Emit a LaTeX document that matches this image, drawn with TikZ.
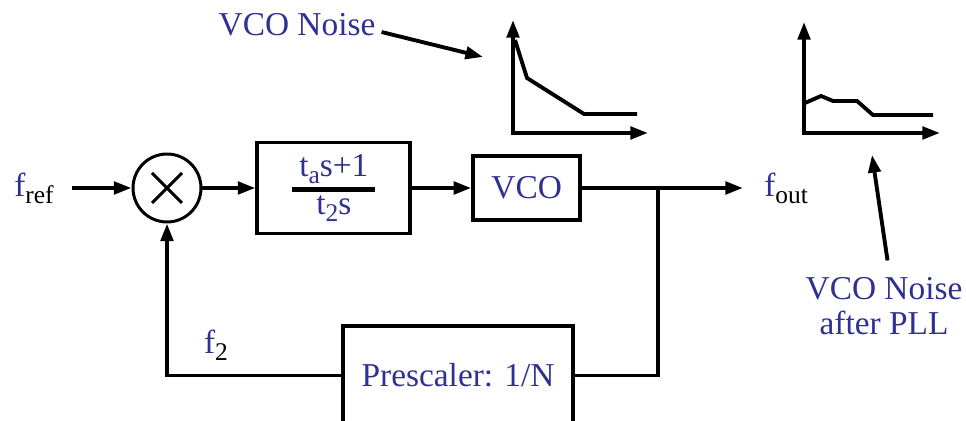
\documentclass[tikz,border=0pt]{standalone}
\usepackage{fontspec}
\setmainfont{Liberation Serif}
\usepackage{tikz}
\usetikzlibrary{positioning, arrows.meta}
\definecolor{textblue}{RGB}{46,49,146}
\newcommand{\subtxt}[1]{\raisebox{-4pt}{\fontsize{14.5pt}{15pt}\selectfont #1}}

\begin{document}
\begin{tikzpicture}[
    x=0.02cm, y=-0.02cm,
    font=\fontsize{19pt}{20pt}\selectfont,
    block/.style={draw, rectangle, line width=2.2pt, align=center, text=textblue},
    lbl/.style={text=textblue, align=center},
    wire/.style={line width=2.2pt},
    arrow/.style={-{Triangle[length=10pt, width=7pt]}, line width=2.2pt},
    axes/.style={{Triangle[length=10pt, width=7pt]}-{Triangle[length=10pt, width=7pt]}, line width=2.2pt}
]
\useasboundingbox (0,0) rectangle (966,421);

% main loop
\node[draw, circle, line width=1.7pt, minimum size=1.36cm] (mix) at (167,188) {};
\draw[line width=1.7pt] (mix.center) +(-15,-15) -- +(15,15) +(15,-15) -- +(-15,15);
\node[block, minimum width=3.06cm, minimum height=1.82cm, right=1.06cm of mix] (filter)
    {t\subtxt{a}s+1\\[-11.5pt]{\color{black}\rule{1.66cm}{2.4pt}}\\[-7pt]t\subtxt{2}s};
\node[block, minimum width=2.14cm, minimum height=1.28cm, right=1.18cm of filter] (vco) {VCO};
\node[block, minimum width=4.6cm, minimum height=1.98cm] (prescaler) at (458,375.5) {Prescaler: 1/N};
\coordinate (split) at (658,188);

\node[lbl, anchor=east, inner xsep=0.36cm] (fref) at (72,188) {f\subtxt{\color{black}ref}};
\node[lbl, anchor=west, inner xsep=0.42cm] (fout) at (743,188) {f\subtxt{\color{black}out}};
\node[lbl] (f2) at (216,345) {f\subtxt{\color{black}2}};

\draw[arrow] (fref) -- (mix);
\draw[arrow] (mix) -- (filter);
\draw[arrow] (filter) -- (vco);
\draw[arrow] (vco) -- (fout);
\draw[wire] (split) |- (prescaler);
\draw[arrow] (prescaler) -| (mix);

% noise plots
\draw[axes] (513,20) -- (513,133) -- (648,133);
\draw[wire] (515,40) -- (527,78) -- (584,114) -- (637,114);
\draw[axes] (804,22) -- (804,133) -- (940,133);
\draw[wire] (805,103) -- (821,96) -- (833,101) -- (857,101) -- (873,115) -- (933,115);

\node[lbl] (vconoise) at (297,25) {VCO Noise};
\coordinate (noisetip) at (483,57);
\draw[arrow] ([yshift=-4pt]vconoise.east) -- (noisetip);

\node[lbl] (pllnoise) at (884,306) {VCO Noise\\after PLL};
\coordinate (plltip) at (872,155);
\draw[arrow] ([xshift=2pt, yshift=6pt]pllnoise.north) -- (plltip);
\end{tikzpicture}
\end{document}
